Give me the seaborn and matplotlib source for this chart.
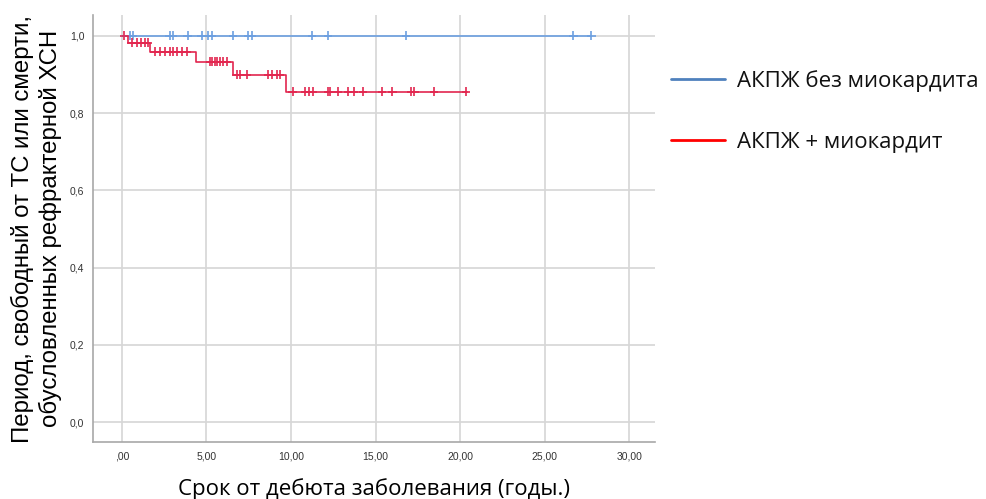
import matplotlib
matplotlib.use("Agg")
import matplotlib.pyplot as plt
import numpy as np
import pandas as pd
import seaborn as sns
from matplotlib.lines import Line2D
from matplotlib.ticker import FuncFormatter

# group labels
groups = ["АКПЖ без миокардита", "АКПЖ + миокардит"]

# АКПЖ без миокардита: no events, only censored cases
blue_events = []
blue_surv = []
blue_end = 27.75
blue_censored = [0.47, 0.65, 2.84, 3.02, 3.9, 4.73, 5.1, 5.33, 6.57, 7.46,
                 7.69, 11.24, 12.19, 16.8, 26.7, 27.75]

# АКПЖ + миокардит
red_events = [0.35, 1.65, 4.4, 6.55, 9.7]
red_surv = [0.982, 0.959, 0.933, 0.899, 0.855]
red_end = 20.4
red_censored = [0.15,
                0.59, 0.89, 1.12, 1.36, 1.54,
                1.95, 2.25, 2.54, 2.84, 3.02, 3.25, 3.55, 3.85,
                5.21, 5.33, 5.5, 5.62, 5.8, 5.98, 6.21,
                6.8, 6.98, 7.4, 8.64, 8.88, 9.17, 9.35,
                10.1, 10.83, 11.06, 11.3, 12.19, 12.31, 12.78, 13.37, 13.73,
                14.26, 15.38, 15.98, 17.1, 17.28, 18.46, 20.35]

x_ticks = [0, 5, 10, 15, 20, 25, 30]
y_ticks = [0.0, 0.2, 0.4, 0.6, 0.8, 1.0]


def step_frame(events, surv, end, name):
    return pd.DataFrame({"t": [0.0] + list(events) + [end],
                         "s": [1.0] + list(surv) + [surv[-1] if surv else 1.0],
                         "group": name})


def censor_frame(events, surv, censored, name):
    levels = np.array([1.0] + list(surv))
    idx = np.searchsorted(np.array(events, dtype=float), censored, side="right")
    return pd.DataFrame({"t": censored, "s": levels[idx], "group": name})


curves = pd.concat([step_frame(blue_events, blue_surv, blue_end, groups[0]),
                    step_frame(red_events, red_surv, red_end, groups[1])])
marks = pd.concat([censor_frame(blue_events, blue_surv, blue_censored, groups[0]),
                   censor_frame(red_events, red_surv, red_censored, groups[1])])

plot_colors = {groups[0]: "#6c9fe0", groups[1]: "#e2264f"}
legend_colors = ["#4f81bd", "#ff0000"]

sns.set_theme(style="white")
plt.rcParams["font.family"] = ["Liberation Sans", "DejaVu Sans"]

fig = plt.figure(figsize=(9.86, 4.99), dpi=100)
ax = fig.add_axes([0.094, 0.114, 0.570, 0.856])

ax.grid(True, color="#d6d6d6", linewidth=1.2)
ax.set_axisbelow(True)

sns.lineplot(data=curves, x="t", y="s", hue="group", palette=plot_colors,
             estimator=None, sort=False, drawstyle="steps-post",
             linewidth=1.2, legend=False, ax=ax)
sns.scatterplot(data=marks, x="t", y="s", hue="group", palette=plot_colors,
                marker="+", s=40, linewidth=1.2, legend=False, ax=ax)

ax.set_xlim(-1.72, 31.5)
ax.set_ylim(-0.052, 1.054)
ax.set_xticks(x_ticks)
ax.set_yticks(y_ticks)
ax.xaxis.set_major_formatter(FuncFormatter(
    lambda v, _: ",00" if v == 0 else f"{v:.2f}".replace(".", ",")))
ax.yaxis.set_major_formatter(FuncFormatter(lambda v, _: f"{v:.1f}".replace(".", ",")))
ax.tick_params(axis="both", length=0, labelsize=7.5, labelcolor="#333333", pad=6)
ax.tick_params(axis="x", pad=7)

for side in ["top", "right"]:
    ax.spines[side].set_visible(False)
for side in ["left", "bottom"]:
    ax.spines[side].set_color("#a8a8a8")
    ax.spines[side].set_linewidth(1.2)

ax.set_xlabel("Срок от дебюта заболевания (годы.)", fontsize=16,
              family=["Open Sans", "DejaVu Sans"], color="black", labelpad=12)
ax.set_ylabel("Период, свободный от ТС или смерти,\nобусловленных рефрактерной ХСН",
              fontsize=17.3, color="black", labelpad=6, linespacing=1.25)

handles = [Line2D([], [], color=c, linewidth=2) for c in legend_colors]
leg = fig.legend(handles, groups, loc="upper left", bbox_to_anchor=(0.66, 0.9),
                 frameon=False, handlelength=2.45, handletextpad=0.55,
                 labelspacing=1.8,
                 prop={"family": ["Open Sans", "DejaVu Sans"], "size": 16})
for text in leg.get_texts():
    text.set_color("#111111")

fig.savefig("out.png", dpi=100)
